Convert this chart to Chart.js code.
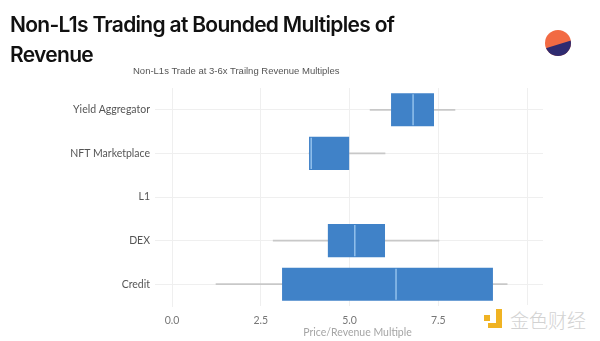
<!DOCTYPE html>
<html>
<head>
<meta charset="utf-8">
<script src="https://cdn.jsdelivr.net/npm/chart.js@4"></script>
<style>
  html, body { margin: 0; padding: 0; background: #fff; }
  #wrap { position: relative; width: 600px; height: 341px; overflow: hidden; }
  #chart-box { position: absolute; left: 0; top: 0; width: 600px; height: 341px; }
  .title {
    position: absolute; left: 10px; top: 10px; width: 480px;
    font-family: Inter, sans-serif; font-weight: 600; font-size: 21px;
    line-height: 30px; letter-spacing: -0.7px; color: #111;
  }
  .subtitle {
    position: absolute; left: 133px; top: 65px; width: 200px; text-align: center;
    font-family: "Liberation Sans", Arial, sans-serif; font-size: 9.5px; color: #555;
    white-space: nowrap;
  }
  .mark { position: absolute; left: 480px; top: 305px; width: 116px; height: 30px; background: #fff; }
  .mark .dot { position: absolute; background: #f0b323; }
  .mark .txt {
    position: absolute; left: 30px; top: 1px;
    font-family: "Noto Sans CJK SC", sans-serif; font-size: 19px; font-weight: 300;
    color: #d2d2d2;
  }
</style>
</head>
<body>
<div id="wrap">
  <div id="chart-box"><canvas id="chart"></canvas></div>
  <div class="title">Non-L1s Trading at Bounded Multiples of<br>Revenue</div>
  <div class="subtitle">Non-L1s Trade at 3-6x Trailng Revenue Multiples</div>
  <svg style="position:absolute;left:543px;top:29px" width="30" height="30" viewBox="0 0 30 30">
    <defs><clipPath id="c"><circle cx="15" cy="14" r="13"/></clipPath></defs>
    <g clip-path="url(#c)">
      <rect x="0" y="0" width="30" height="30" fill="#f26a43"/>
      <polygon points="0,20 30,11 30,30 0,30" fill="#2f2b70"/>
    </g>
  </svg>
  <div class="mark">
    <div class="dot" style="left:4px;top:10px;width:6px;height:6px"></div>
    <div class="dot" style="left:16px;top:4px;width:6px;height:18px"></div>
    <div class="dot" style="left:8px;top:18px;width:14px;height:5px"></div>
    <div class="txt">金色财经</div>
  </div>
</div>
<script>
// box plot values (price / trailing revenue multiple)
const categories = ['Yield Aggregator', 'NFT Marketplace', 'L1', 'DEX', 'Credit'];
const whiskerLow = [5.58, 3.86, null, 2.85, 1.24];
const quartile1 = [6.17, 3.86, null, 4.39, 3.10];
const medians = [6.79, 3.92, null, 5.15, 6.31];
const quartile3 = [7.38, 4.99, null, 6.00, 9.04];
const whiskerHigh = [7.97, 6.00, null, 7.52, 9.44];
const xTicks = [0, 2.5, 5, 7.5, 10];

const boxColor = '#4082c8';
const gridColor = '#efefef';

const pair = (lo, hi) => lo.map((v, i) => (v == null ? null : [v, hi[i]]));

// median lines drawn on top of the boxes
const medianPlugin = {
  id: 'medianLines',
  afterDatasetsDraw(chart) {
    const xs = chart.scales.x;
    const boxes = chart.getDatasetMeta(1).data;
    const ctx = chart.ctx;
    ctx.save();
    ctx.strokeStyle = '#a6d0f5';
    ctx.lineWidth = 1.2;
    medians.forEach((m, i) => {
      if (m == null || !boxes[i]) return;
      const x = xs.getPixelForValue(m);
      const b = boxes[i];
      ctx.beginPath();
      ctx.moveTo(x, b.y - b.height / 2 + 1);
      ctx.lineTo(x, b.y + b.height / 2 - 1);
      ctx.stroke();
    });
    ctx.restore();
  }
};

new Chart(document.getElementById('chart'), {
  type: 'bar',
  data: {
    labels: categories,
    datasets: [
      {
        label: 'whisker',
        data: pair(whiskerLow, whiskerHigh),
        backgroundColor: '#c8c8c8',
        barThickness: 1,
        grouped: false,
        order: 2
      },
      {
        label: 'box',
        data: pair(quartile1, quartile3),
        backgroundColor: boxColor,
        barPercentage: 0.76,
        categoryPercentage: 1,
        grouped: false,
        order: 1
      }
    ]
  },
  options: {
    indexAxis: 'y',
    responsive: true,
    maintainAspectRatio: false,
    animation: false,
    layout: { padding: { top: 88, right: 57, left: 0, bottom: 0 } },
    plugins: {
      legend: { display: false },
      tooltip: { enabled: false }
    },
    scales: {
      x: {
        min: 0,
        max: 10.45,
        afterBuildTicks: (s) => { s.ticks = xTicks.map(v => ({ value: v })); },
        afterFit: (s) => { s.height = 35; },
        grid: { color: gridColor, drawTicks: false },
        border: { display: false },
        ticks: {
          padding: 8,
          color: '#777',
          font: { family: 'Lato', size: 10.5 },
          callback: (v) => Number(v).toFixed(1)
        },
        title: {
          display: true,
          text: 'Price/Revenue Multiple',
          color: '#a5a5a5',
          font: { family: 'Lato', size: 10.5 },
          padding: { top: 0, bottom: 2 }
        }
      },
      y: {
        afterFit: (s) => { s.width = 172; },
        grid: { color: gridColor, offset: false, tickLength: 17 },
        border: { color: gridColor },
        ticks: {
          padding: 5,
          color: '#555',
          font: { family: 'Lato', size: 10.5 }
        }
      }
    }
  },
  plugins: [medianPlugin]
});
</script>
</body>
</html>
